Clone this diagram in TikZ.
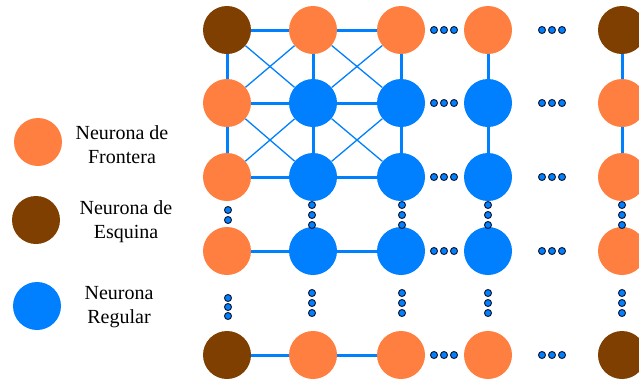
\documentclass[tikz,border=0pt]{standalone}
\usepackage{fontspec}
\setmainfont{Liberation Serif}
\definecolor{naranja}{RGB}{255,127,64}
\definecolor{cafe}{RGB}{127,63,0}
\definecolor{azul}{RGB}{0,128,255}
\definecolor{borde}{RGB}{20,30,60}
\tikzset{neurona/.style = {circle,inner sep=0pt,minimum size=48pt},
         frontera/.style = {neurona,fill=naranja},
         esquina/.style = {neurona,fill=cafe},
         regular/.style = {neurona,fill=azul},
         punto/.style = {circle,draw=borde,fill=azul,line width=1pt,inner sep=0pt,minimum size=7pt},
         enlace/.style = {azul,line width=3pt},
         cruce/.style = {azul,line width=1.3pt},
         etiqueta/.style = {align=center,font=\fontsize{20}{24}\selectfont}}

\begin{document}
\begin{tikzpicture}[x=1pt,y=-1pt]
        \useasboundingbox (0,0) rectangle (639,381);
        % malla de neuronas
        \foreach \r/\y/\a/\b in {1/30/esquina/frontera, 2/103/frontera/regular,
                                 3/177/frontera/regular, 4/251/frontera/regular,
                                 5/355/esquina/frontera} {
            \node [\a] (n\r1) at (227,\y) {};
            \foreach \c/\x in {2/313,3/401,4/488}
                \node [\b] (n\r\c) at (\x,\y) {};
            \node [\a] (n\r5) at (622,\y) {};
        }
        % conexiones
        \foreach \r in {1,...,5}
            \draw [enlace] (n\r1) -- (n\r2) -- (n\r3);
        \foreach \c in {1,...,5}
            \draw [enlace] (n1\c) -- (n2\c) -- (n3\c);
        \foreach \r in {1,2} {
            \foreach \c in {1,2} {
                \pgfmathtruncatemacro{\rr}{\r+1}
                \pgfmathtruncatemacro{\cc}{\c+1}
                \draw [cruce] (n\r\c) -- (n\rr\cc);
                \draw [cruce] (n\r\cc) -- (n\rr\c);
            }
        }
        % puntos suspensivos
        \foreach \r/\y in {1/30,2/103,3/177,4/251,5/355} {
            \foreach \x in {434,444,454,542,552,562}
                \node [punto] (h\r-\x) at (\x,\y) {};
        }
        \foreach \c/\x in {2/312,3/402,4/488,5/622} {
            \foreach \y in {205,215,225}
                \node [punto] (v\c-\y) at (\x,\y) {};
            \foreach \y in {293,303,313}
                \node [punto] (w\c-\y) at (\x,\y) {};
        }
        \node [punto] (v1-a) at (228,210) {};
        \node [punto] (v1-b) at (228,220) {};
        \foreach \y in {298,307,316}
            \node [punto] (w1-\y) at (228,\y) {};
        % leyenda
        \node [frontera] (lf) at (38,142) {};
        \node [esquina] (le) at (36,220) {};
        \node [regular] (lr) at (37,306) {};
        \node [etiqueta] at (122,145) {Neurona de\\Frontera};
        \node [etiqueta] at (126,222) {Neurona de\\Esquina};
        \node [etiqueta] at (119,307) {Neurona\\Regular};
    \end{tikzpicture}
\end{document}
